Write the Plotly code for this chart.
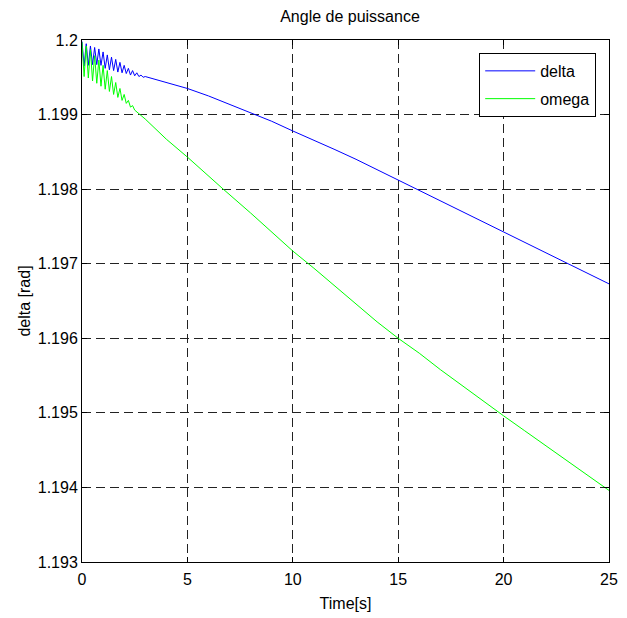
import plotly.graph_objects as go

# ---- data ----
time_delta = [0.0, 0.1, 0.2, 0.3, 0.4, 0.5, 0.6, 0.7, 0.8, 0.9,
              1.0, 1.1, 1.2, 1.3, 1.4, 1.5, 1.6, 1.7, 1.8, 1.9,
              2.0, 2.1, 2.2, 2.3, 2.4, 2.5, 2.6, 2.7, 2.8, 2.9,
              3.0, 3.5, 4.0, 5.0, 6.0, 7.0, 8.2, 9.0, 10.0, 11.0,
              12.0, 13.0, 14.0, 15.0, 16.0, 17.0, 18.0, 19.0, 20.0, 21.0,
              22.0, 23.0, 24.0, 25.0]
delta = [1.19998, 1.19965, 1.19995, 1.19966, 1.19992, 1.19967, 1.19990, 1.19967, 1.19988, 1.19966,
         1.19984, 1.19962, 1.19980, 1.19960, 1.19977, 1.19959, 1.19974, 1.19957, 1.19970, 1.19956,
         1.19966, 1.19955, 1.19962, 1.19953, 1.19959, 1.19952, 1.19956, 1.19951, 1.19953, 1.19950,
         1.19951, 1.19947, 1.19943, 1.19935, 1.19925, 1.19914, 1.19900, 1.19891, 1.19878, 1.19866,
         1.19853, 1.19840, 1.19826, 1.19812, 1.19798, 1.19784, 1.19771, 1.19757, 1.19743, 1.19729,
         1.19715, 1.19701, 1.19687, 1.19673]

time_omega = [0.0, 0.1, 0.2, 0.3, 0.4, 0.5, 0.6, 0.7, 0.8, 0.9,
              1.0, 1.1, 1.2, 1.3, 1.4, 1.5, 1.6, 1.7, 1.8, 1.9,
              2.0, 2.1, 2.2, 2.3, 2.4, 2.5, 3.0, 3.5, 4.0, 5.0,
              6.0, 6.7, 8.0, 9.0, 10.0, 11.0, 12.0, 13.0, 14.0, 15.0,
              16.0, 17.0, 18.0, 19.0, 20.0, 21.0, 22.0, 23.0, 24.0, 25.0]
omega = [1.19997, 1.19951, 1.19992, 1.19949, 1.19987, 1.19945, 1.19979, 1.19942, 1.19973, 1.19938,
         1.19966, 1.19934, 1.19959, 1.19931, 1.19951, 1.19927, 1.19943, 1.19923, 1.19935, 1.19919,
         1.19927, 1.19915, 1.19919, 1.19910, 1.19912, 1.19906, 1.19894, 1.19880, 1.19867, 1.19843,
         1.19817, 1.19800, 1.19768, 1.19742, 1.19717, 1.19694, 1.19670, 1.19646, 1.19622, 1.19600,
         1.19580, 1.19558, 1.19537, 1.19516, 1.19496, 1.19476, 1.19456, 1.19436, 1.19416, 1.19396]

x_ticks = [0, 5, 10, 15, 20, 25]
x_tick_labels = ["0", "5", "10", "15", "20", "25"]
y_ticks = [1.193, 1.194, 1.195, 1.196, 1.197, 1.198, 1.199, 1.2]
y_tick_labels = ["1.193", "1.194", "1.195", "1.196", "1.197", "1.198", "1.199", "1.2"]

FONT = "Arial, 'Liberation Sans', sans-serif"

fig = go.Figure()
fig.add_trace(go.Scatter(x=time_delta, y=delta, mode="lines", name="delta",
                         legendgroup="a", line=dict(color="#0000ff", width=1)))
fig.add_trace(go.Scatter(x=time_omega, y=omega, mode="lines", name="omega",
                         legendgroup="b", line=dict(color="#00ff00", width=1)))

axis_common = dict(
    showline=True, linecolor="black", linewidth=1, mirror="ticks",
    ticks="inside", ticklen=5, tickcolor="black", tickwidth=1,
    showgrid=True, gridcolor="#222222", gridwidth=1, griddash="9px,5px",
    zeroline=False, tickfont=dict(family=FONT, size=16, color="black"),
)

fig.update_layout(
    width=627, height=618,
    margin=dict(l=82, r=9, t=40, b=54),
    paper_bgcolor="white", plot_bgcolor="white",
    font=dict(family=FONT, size=16, color="black"),
    title=dict(text="Angle de puissance", x=0.5582, xanchor="center",
               y=1 - 16 / 618, yanchor="middle",
               font=dict(family=FONT, size=16, color="black")),
    xaxis=dict(range=[0, 25], tickvals=x_ticks, ticktext=x_tick_labels,
               ticklabelstandoff=3,
               title=dict(text="Time[s]", standoff=10,
                          font=dict(family=FONT, size=16, color="black")),
               **axis_common),
    yaxis=dict(range=[1.193, 1.2], tickvals=y_ticks, ticktext=y_tick_labels,
               title=dict(text="delta [rad]", standoff=3,
                          font=dict(family=FONT, size=16, color="black")),
               **axis_common),
    showlegend=True,
    legend=dict(x=0.9757, y=0.9752, xanchor="right", yanchor="top",
                bgcolor="white", bordercolor="black", borderwidth=1,
                font=dict(family=FONT, size=16, color="black"),
                itemwidth=50, tracegroupgap=4),
)

fig.write_html("out.html")
